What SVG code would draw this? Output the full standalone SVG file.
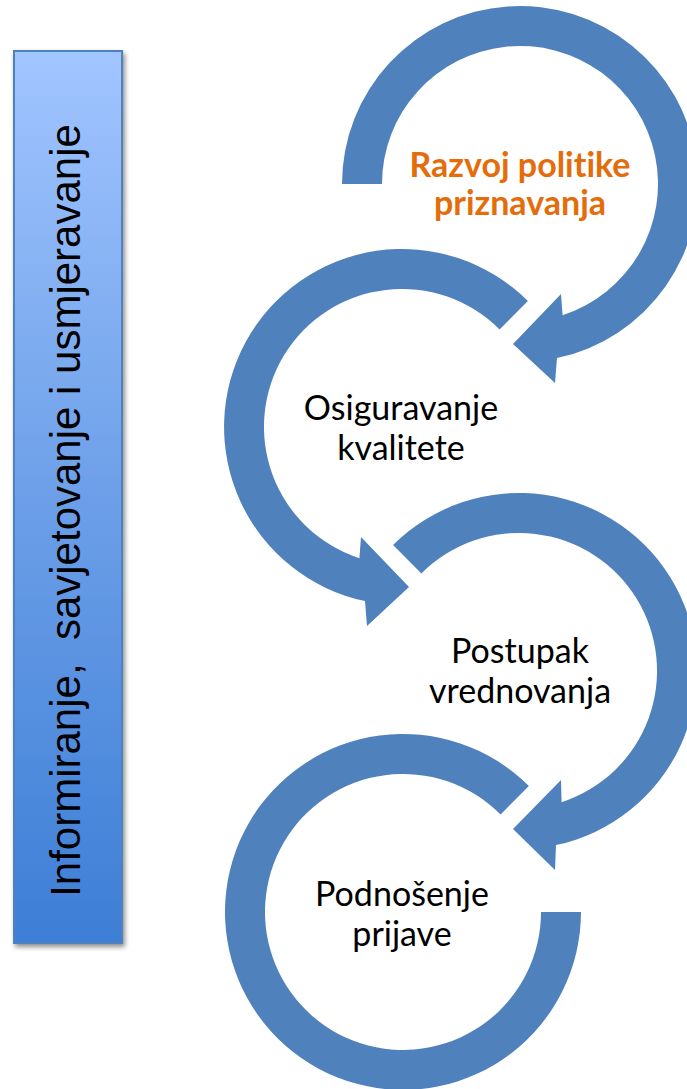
<svg xmlns="http://www.w3.org/2000/svg" width="687" height="1089" viewBox="0 0 687 1089">
  <defs>
    <linearGradient id="boxGrad" x1="0" y1="0" x2="0" y2="1">
      <stop offset="0" stop-color="#A1C5FF"/>
      <stop offset="0.5" stop-color="#6C9FE8"/>
      <stop offset="1" stop-color="#3D7ED6"/>
    </linearGradient>
    <filter id="shadow" x="-20%" y="-5%" width="140%" height="110%">
      <feGaussianBlur in="SourceAlpha" stdDeviation="2.5"/>
      <feOffset dx="2" dy="3" result="b"/>
      <feComponentTransfer><feFuncA type="linear" slope="0.45"/></feComponentTransfer>
      <feMerge><feMergeNode/><feMergeNode in="SourceGraphic"/></feMerge>
    </filter>
    <style>
      .arrow { fill: #4F81BD; stroke: none; }
      .lbl { font-family: "Lato", "Open Sans", "Liberation Sans", sans-serif; font-size: 34px; fill: #000000; text-anchor: middle; font-variant-ligatures: none; }
      .lblb { font-family: "Lato", "Open Sans", "Liberation Sans", sans-serif; font-size: 34px; font-weight: bold; fill: #E46C0A; text-anchor: middle; font-variant-ligatures: none; }
      .side { font-family: "Liberation Sans", Arial, sans-serif; font-size: 42px; fill: #000000; text-anchor: middle; white-space: pre; }
    </style>
  </defs>
  <rect width="687" height="1089" fill="#FFFFFF"/>

  <g id="side-box">
    <rect x="14" y="51" width="108" height="892" fill="url(#boxGrad)" stroke="#4F81BD" stroke-width="2" filter="url(#shadow)"/>
    <text class="side" xml:space="preserve" transform="translate(80,510.5) rotate(-90)">Informiranje,  savjetovanje i usmjeravanje</text>
  </g>

  <g id="connectors">
    <path id="arc1" class="arrow" d="M 342 184 A 178 178 0 1 1 557 358.1 L 555 383 L 513 344 L 561 294 L 562.6 315.2 A 138 138 0 1 0 382 184 Z"/>
    <path id="arc2" class="arrow" d="M 527.9 301.1 A 178 178 0 1 0 365 601.1 L 367 626 L 409 587 L 361 537 L 359.4 558.2 A 138 138 0 1 1 499.6 329.4 Z"/>
    <path id="arc3" class="arrow" d="M 393.1 545.1 A 178 178 0 1 1 556 845.1 L 555 870 L 513 829 L 561 780 L 561.6 802.2 A 138 138 0 1 0 421.4 573.4 Z"/>
    <path id="arc4" class="arrow" d="M 528.9 786.1 A 178 178 0 1 0 581 912 L 541 912 A 138 138 0 1 1 500.6 814.4 Z"/>
  </g>

  <g id="node-razvoj">
    <text class="lblb" x="520" y="177">Razvoj politike</text>
    <text class="lblb" x="520" y="215">priznavanja</text>
  </g>
  <g id="node-osiguravanje">
    <text class="lbl" x="401" y="420">Osiguravanje</text>
    <text class="lbl" x="401" y="460">kvalitete</text>
  </g>
  <g id="node-postupak">
    <text class="lbl" x="520" y="663">Postupak</text>
    <text class="lbl" x="520" y="703">vrednovanja</text>
  </g>
  <g id="node-podnosenje">
    <text class="lbl" x="402" y="906">Podnošenje</text>
    <text class="lbl" x="402" y="946">prijave</text>
  </g>
</svg>
